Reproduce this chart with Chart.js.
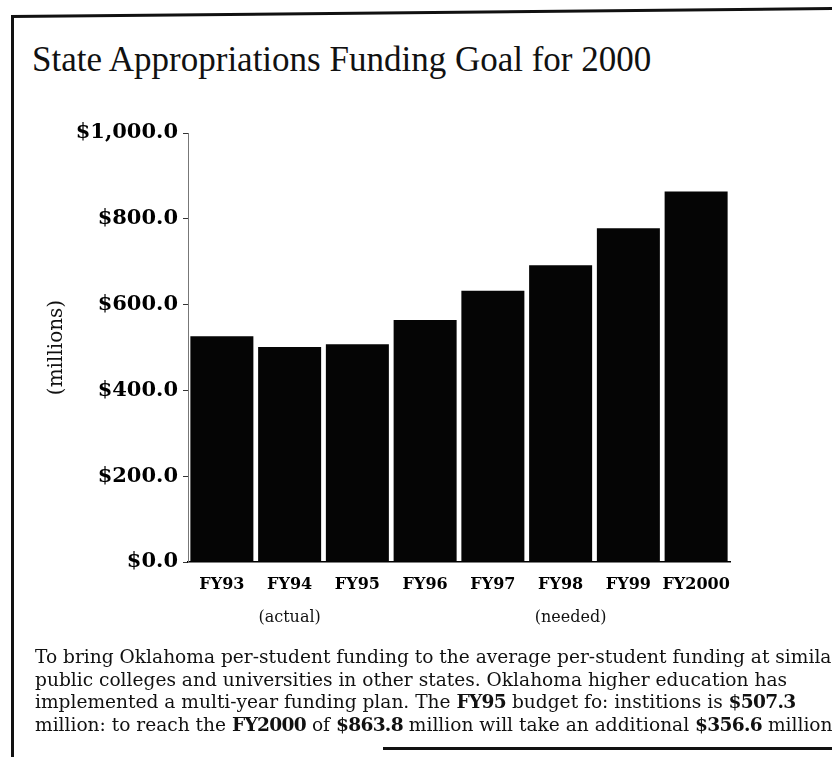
<!DOCTYPE html>
<html>
<head>
<meta charset="utf-8">
<title>State Appropriations Funding Goal for 2000</title>
<script src="https://cdn.jsdelivr.net/npm/chart.js@4"></script>
<style>
  html, body { margin: 0; padding: 0; background: #fff; }
  body { width: 832px; height: 757px; position: relative; overflow: hidden; }
  #chart { position: absolute; left: 0; top: 0; }
  .rule { position: absolute; background: #111; }
  #title {
    position: absolute; left: 32px; top: 40px;
    font: 35px "Liberation Serif", serif; color: #111; white-space: nowrap;
  }
  #note {
    position: absolute; left: 35px; top: 646px;
    font: 18.6px/22.5px "DejaVu Serif", serif; color: #111; white-space: nowrap;
  }
  #note b { font-weight: bold; letter-spacing: -0.7px; }
</style>
</head>
<body>
<!-- frame around the figure -->
<div class="rule" style="left:11px; top:17px; width:3px; height:740px;"></div>
<div class="rule" style="left:11px; top:15px; width:822px; height:3px; transform:rotate(-0.55deg); transform-origin:left top;"></div>
<div class="rule" style="left:383px; top:747px; width:449px; height:3px;"></div>

<div id="title">State Appropriations Funding Goal for 2000</div>
<canvas id="chart" width="832" height="757"></canvas>
<div id="note">
To bring Oklahoma per-student funding to the average per-student funding at similar<br>
public colleges and universities in other states. Oklahoma higher education has<br>
implemented a multi-year funding plan. The <b>FY95</b> budget fo: institions is <b>$507.3</b><br>
million: to reach the <b>FY2000</b> of <b>$863.8</b> million will take an additional <b>$356.6</b> million
</div>

<script>
// fiscal years and state appropriations, $ millions
const years = ['FY93', 'FY94', 'FY95', 'FY96', 'FY97', 'FY98', 'FY99', 'FY2000'];
const appropriations = [526, 501, 507.3, 564, 632, 692, 778, 863.8];
const yTicks = [0, 200, 400, 600, 800, 1000];

// notes printed below the year labels
const groupNotes = ['(actual)', '(needed)'];
const groupUnder = ['FY94', 'FY98'];

const serif = '"DejaVu Serif", serif';

const money = v => '$' + v.toLocaleString('en-US', { minimumFractionDigits: 1, maximumFractionDigits: 1 });

const groupNotePlugin = {
    id: 'groupNotes',
    afterDraw(chart) {
        const { ctx, scales: { x } } = chart;
        ctx.save();
        ctx.font = '16px ' + serif;
        ctx.fillStyle = '#111';
        ctx.textAlign = 'center';
        ctx.textBaseline = 'middle';
        groupNotes.forEach((txt, i) => {
            const px = x.getPixelForValue(years.indexOf(groupUnder[i]));
            ctx.fillText(txt, px + (i ? 10 : 0), x.bottom + 16);
        });
        ctx.restore();
    }
};

new Chart(document.getElementById('chart').getContext('2d'), {
    type: 'bar',
    data: {
        labels: years,
        datasets: [{
            data: appropriations,
            backgroundColor: '#050505',
            borderWidth: 0,
            barPercentage: 0.93,
            categoryPercentage: 1
        }]
    },
    options: {
        responsive: false,
        animation: false,
        layout: { padding: { left: 35, right: 102, top: 133, bottom: 155 } },
        plugins: {
            legend: { display: false },
            tooltip: { enabled: false }
        },
        scales: {
            x: {
                afterFit: s => { s.height = 40; },
                grid: { display: false, drawTicks: false },
                border: { display: true, color: '#000', width: 1.5 },
                ticks: {
                    color: '#000',
                    padding: 13,
                    autoSkip: false,
                    maxRotation: 0,
                    minRotation: 0,
                    font: { family: serif, size: 16, weight: 'bold' }
                }
            },
            y: {
                min: 0,
                max: 1000,
                afterFit: s => { s.width = 153; },
                afterBuildTicks: s => { s.ticks = yTicks.map(v => ({ value: v })); },
                grid: { drawOnChartArea: false, drawTicks: true, tickLength: 5, color: '#333' },
                border: { display: true, color: '#777', width: 1, dash: [2, 6] },
                ticks: {
                    color: '#000',
                    padding: 5,
                    font: { family: serif, size: 21, weight: 'bold' },
                    callback: v => money(v)
                },
                title: {
                    display: true,
                    text: '(millions)',
                    color: '#111',
                    padding: { top: 10, bottom: 0 },
                    font: { family: serif, size: 20 }
                }
            }
        }
    },
    plugins: [groupNotePlugin]
});
</script>
</body>
</html>
